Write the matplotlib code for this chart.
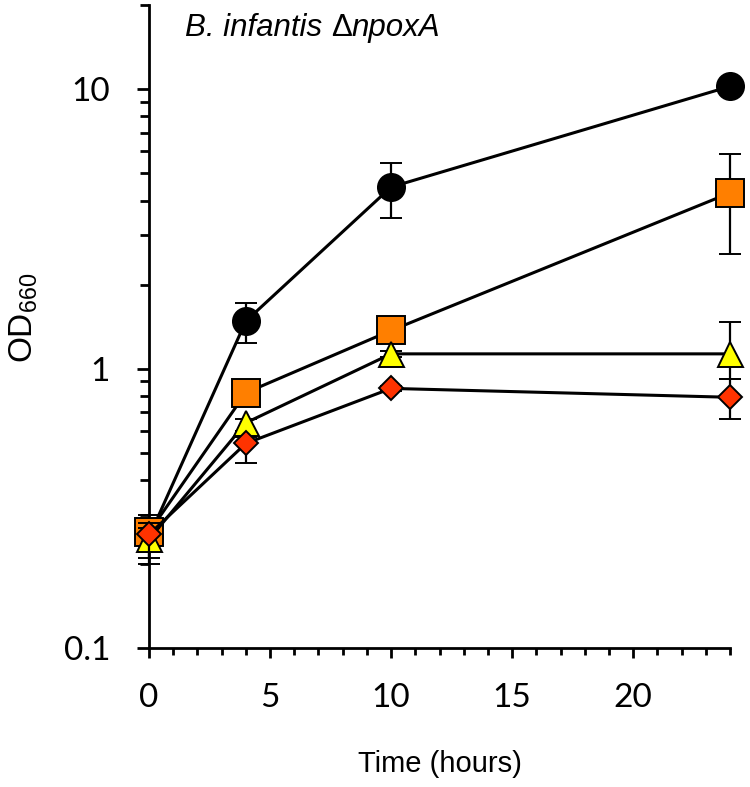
import numpy as np
import matplotlib
matplotlib.use("Agg")
import matplotlib.pyplot as plt
from matplotlib.ticker import LogLocator, FixedLocator, MultipleLocator, NullFormatter
from matplotlib.offsetbox import TextArea, HPacker, AnchoredOffsetbox

plt.rcParams['font.family'] = ['Liberation Sans', 'DejaVu Sans']
plt.rcParams['mathtext.fontset'] = 'custom'
plt.rcParams['mathtext.rm'] = 'Liberation Sans'
plt.rcParams['mathtext.it'] = 'Liberation Sans:italic'
plt.rcParams['mathtext.default'] = 'regular'

# time points (hours)
time = [0, 4, 10, 24]

# OD660 means and error-bar ends
od_black = np.array([0.25, 1.48, 4.47, 10.25])
hi_black = np.array([0.29, 1.72, 5.43, 10.25])
lo_black = np.array([0.22, 1.24, 3.45, 10.25])

od_orange = np.array([0.26, 0.82, 1.37, 4.26])
hi_orange = np.array([0.30, 0.84, 1.40, 5.88])
lo_orange = np.array([0.22, 0.80, 1.34, 2.58])

od_yellow = np.array([0.245, 0.64, 1.13, 1.13])
hi_yellow = np.array([0.27, 0.66, 1.16, 1.47])
lo_yellow = np.array([0.21, 0.60, 1.10, 0.92])

od_red = np.array([0.255, 0.54, 0.85, 0.79])
hi_red = np.array([0.28, 0.57, 0.87, 0.92])
lo_red = np.array([0.20, 0.46, 0.83, 0.66])

x_ticks = [0, 5, 10, 15, 20]
y_ticks = [0.1, 1, 10]
y_ticklabels = ['0.1', '1', '10']

fig = plt.figure(figsize=(7.5, 7.87), dpi=100)
ax = fig.add_axes([0.1987, 0.1766, 0.7747, 0.8167])

series = [
    (od_black, lo_black, hi_black, 'o', 'black', 19.5),
    (od_orange, lo_orange, hi_orange, 's', '#FF7F00', 19.5),
    (od_yellow, lo_yellow, hi_yellow, '^', '#FFFF00', 18),
    (od_red, lo_red, hi_red, 'D', '#FF3300', 12.5),
]
for i, (v, lo, hi, m, c, ms) in enumerate(series):
    eb = ax.errorbar(time, v, yerr=[v - lo, hi - v], fmt='-', color='black',
                     lw=2.2, elinewidth=1.6, capsize=8, capthick=1.6,
                     marker=m, ms=ms, mfc=c, mec='black', mew=1.4,
                     zorder=3 + i)
    eb.lines[0].set_clip_on(False)
    for art in list(eb.lines[1]) + list(eb.lines[2]):
        art.set_clip_on(False)

ax.set_yscale('log')
ax.set_ylim(0.1, 20)
ax.set_xlim(0, 24)

ax.yaxis.set_major_locator(FixedLocator(y_ticks))
ax.set_yticklabels(y_ticklabels)
ax.yaxis.set_minor_locator(LogLocator(base=10, subs=np.arange(2, 10)))
ax.yaxis.set_minor_formatter(NullFormatter())
ax.set_xticks(x_ticks)
ax.xaxis.set_minor_locator(MultipleLocator(1))

for s in ['top', 'right']:
    ax.spines[s].set_visible(False)
for s in ['left', 'bottom']:
    ax.spines[s].set_linewidth(2)

ax.tick_params(axis='y', which='major', direction='out', length=9, width=2,
               pad=19, labelsize=24)
ax.tick_params(axis='y', which='minor', direction='out', length=6.5, width=2)
ax.tick_params(axis='x', which='major', direction='out', length=7.5, width=2,
               pad=18, labelsize=24)
ax.tick_params(axis='x', which='minor', direction='out', length=5, width=2)
for lab in ax.get_xticklabels() + ax.get_yticklabels():
    lab.set_family(['Lato', 'DejaVu Sans'])

ax.set_xlabel('Time (hours)', fontsize=21, labelpad=26)
fig.text(24 / 750, 1 - 318 / 787, 'OD$_{660}$', fontsize=24, rotation=90,
         ha='center', va='center')

# strain name: italic except the upright delta
tp_it = dict(fontsize=22.5, style='italic')
tp_up = dict(fontsize=22.5)
title_box = HPacker(children=[TextArea('B. infantis ', textprops=tp_it),
                              TextArea('Δ', textprops=tp_up),
                              TextArea('npoxA', textprops=tp_it)],
                    pad=0, sep=0, align='baseline')
anch = AnchoredOffsetbox(loc='upper left', child=title_box, frameon=False,
                         bbox_to_anchor=(0.062, 0.988), bbox_transform=ax.transAxes,
                         pad=0, borderpad=0)
ax.add_artist(anch)

fig.savefig('out.png', dpi=100)
